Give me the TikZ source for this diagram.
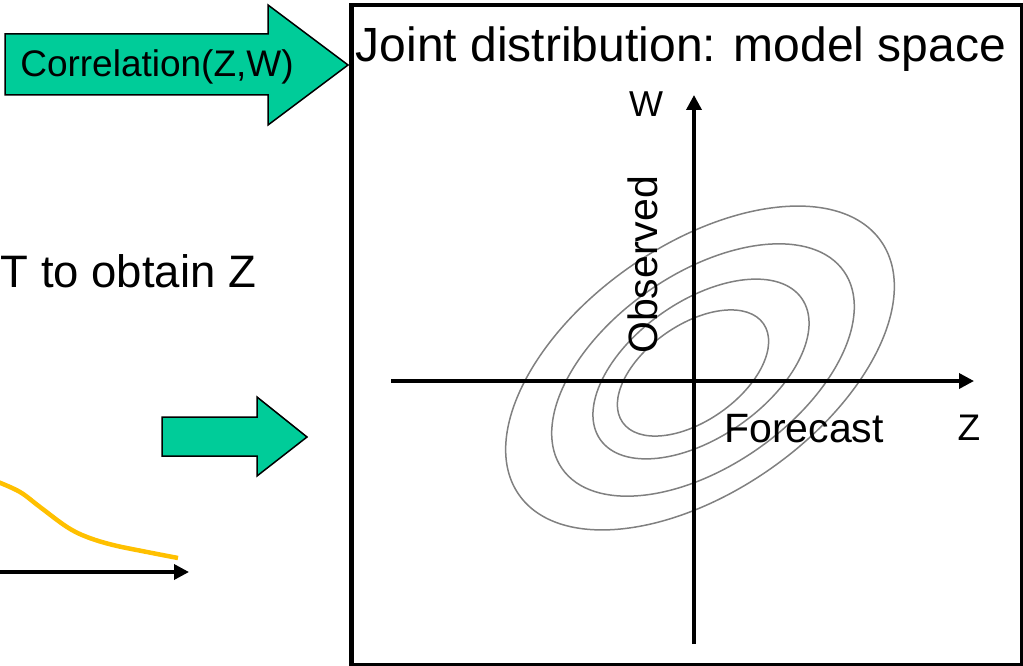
\documentclass[tikz,border=0pt]{standalone}
\usepackage{fontspec}
\setmainfont{Liberation Sans}
\usetikzlibrary{arrows.meta}
\definecolor{arrowgreen}{RGB}{0,204,153}
\definecolor{curveyellow}{RGB}{255,192,0}
\definecolor{contourgray}{RGB}{128,128,128}
\begin{document}
\begin{tikzpicture}[x=1pt,y=-1pt,
  lbl/.style={inner sep=0pt, anchor=base, text=black},
  axisline/.style={line width=3.5pt, -{Triangle[length=15pt,width=15pt]}},
  bigarrow/.style={fill=arrowgreen, draw=black, line width=1.5pt, line join=miter},
  contour/.style={draw=contourgray, line width=1.5pt}]
\useasboundingbox (0,0) rectangle (1023,666);

% frame of the model space
\node (box) [draw, line width=4.5pt, minimum width=671pt, minimum height=660pt,
  inner sep=0pt, anchor=north west] at (349,3) {};

% green arrows
\draw[bigarrow] (5,34) -- (268,34) -- (268,5) -- (348,65) -- (268,125) -- (268,95) -- (5,95) -- cycle;
\draw[bigarrow] (162,417) -- (257,417) -- (257,397) -- (307,437) -- (257,476) -- (257,456) -- (162,456) -- cycle;
\node (corr) [lbl, font=\fontsize{37}{44}\selectfont] at (157,77) {Correlation(Z,W)};

% left text
\node (obtain) [inner sep=0pt, anchor=base west, font=\fontsize{45.5}{55}\selectfont] at (0.5,287) {T to obtain Z};

% yellow curve and left axis
\draw[curveyellow, line width=4.5pt] plot[smooth, tension=0.6] coordinates
  {(-2,482) (20,492) (40,507) (67,527) (87,537) (113,545) (147,552) (178,558)};
\coordinate (ql) at (-2,572);
\coordinate (qr) at (189,572);
\draw[axisline] (ql) -- (qr);

% contours
\draw[contour, rotate around={35:(700,368)}] (700,368) ellipse [x radius=221pt, y radius=123pt];
\draw[contour, rotate around={35:(703,370)}] (703,370) ellipse [x radius=172pt, y radius=96pt];
\draw[contour, rotate around={35:(701,369)}] (701,369) ellipse [x radius=123pt, y radius=68pt];
\draw[contour, rotate around={35:(693,373)}] (693,373) ellipse [x radius=86pt, y radius=48pt];

% axes
\coordinate (zl) at (391,381);
\coordinate (zr) at (974,381);
\coordinate (wb) at (694,644);
\coordinate (wt) at (694,95);
\draw[axisline] (zl) -- (zr);
\draw[axisline] (wb) -- (wt);

% labels
\node (title) [lbl, font=\fontsize{48}{58}\selectfont] at (681,62) {Joint distribution: model space};
\node (wlab) [lbl, font=\fontsize{36}{43}\selectfont] at (646,117) {W};
\node (zlab) [lbl, font=\fontsize{37}{44}\selectfont] at (969,440) {Z};
\node (fc) [lbl, font=\fontsize{41}{49}\selectfont] at (804,442) {Forecast};
\node (obs) [lbl, rotate=90, font=\fontsize{41}{49}\selectfont] at (657,265) {Observed};
\end{tikzpicture}
\end{document}
